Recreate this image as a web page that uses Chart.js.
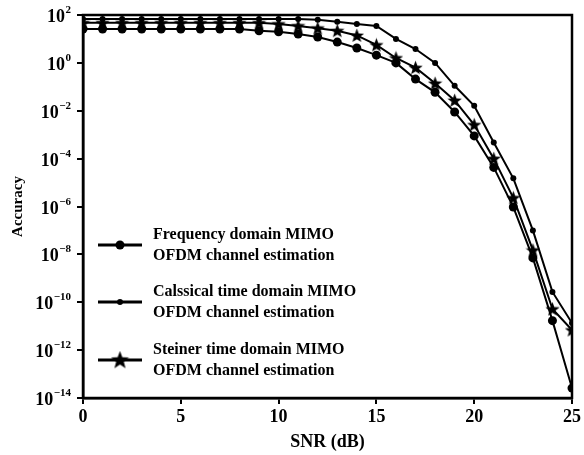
<!DOCTYPE html>
<html lang="en">
<head>
  <meta charset="UTF-8" />
  <title>Accuracy vs SNR</title>
  <script src="https://cdn.jsdelivr.net/npm/chart.js"></script>
  <style>
    body { margin: 0; background: #fff; }
    #wrap { width: 584px; height: 455px; position: relative; }
  </style>
</head>
<body>
  <div id="wrap"><canvas id="chart"></canvas></div>
  <script>
    // values
    const snr = [0, 1, 2, 3, 4, 5, 6, 7, 8, 9, 10, 11, 12, 13, 14, 15, 16, 17, 18, 19, 20, 21, 22, 23, 24, 25];
    const freqAcc = [26, 26, 26, 26, 26, 26, 26, 26, 26, 22, 20, 16, 12, 7.4, 4.2, 2.1, 1.0, 0.21, 0.059, 0.0089,
      8.9e-4, 4.3e-5, 9.5e-7, 7.1e-9, 1.7e-11, 2.6e-14];
    const classicAcc = [68, 68, 68, 68, 68, 68, 68, 68, 68, 68, 68, 68, 63, 52, 42, 35, 10, 3.8, 1.0, 0.11,
      0.016, 4.7e-4, 1.5e-5, 1.0e-7, 2.7e-10, 1.35e-11];
    const steinerAcc = [47, 47, 47, 47, 47, 47, 47, 47, 47, 47, 42, 35, 28, 22, 14, 5.6, 1.6, 0.63, 0.14, 0.027,
      2.6e-3, 1.0e-4, 2.3e-6, 1.5e-8, 5.2e-11, 6.9e-12];

    const xTicks = [0, 5, 10, 15, 20, 25];
    const yTicks = [1e2, 1e0, 1e-2, 1e-4, 1e-6, 1e-8, 1e-10, 1e-12, 1e-14];

    const seriesNames = [
      ['Frequency domain MIMO', 'OFDM channel estimation'],
      ['Calssical time domain MIMO', 'OFDM channel estimation'],
      ['Steiner time domain MIMO', 'OFDM channel estimation']
    ];

    const serif = "'Liberation Serif', 'DejaVu Serif', serif";

    // filled five point star for the Steiner series
    function makeStar(size) {
      const c = document.createElement('canvas');
      c.width = size; c.height = size;
      const g = c.getContext('2d');
      const r = size / 2, ri = r * 0.42;
      g.beginPath();
      for (let i = 0; i < 10; i++) {
        const a = -Math.PI / 2 + i * Math.PI / 5;
        const rr = i % 2 === 0 ? r : ri;
        g.lineTo(r + rr * Math.cos(a), r + 0.5 + rr * Math.sin(a));
      }
      g.closePath();
      g.fillStyle = '#000';
      g.fill();
      return c;
    }
    const starPt = makeStar(15);
    const starLegend = makeStar(19);

    const extras = {
      id: 'extras',
      beforeDraw(chart) {
        const ctx = chart.ctx;
        ctx.save();
        ctx.fillStyle = '#fff';
        ctx.fillRect(0, 0, chart.width, chart.height);
        ctx.restore();
      },
      afterDraw(chart) {
        const ctx = chart.ctx;
        const a = chart.chartArea;
        const ys = chart.scales.y;
        ctx.save();
        // frame
        ctx.strokeStyle = '#000';
        ctx.lineWidth = 2.5;
        ctx.strokeRect(a.left, a.top, a.right - a.left, a.bottom - a.top);

        // y tick labels as 10 with a raised exponent
        ctx.fillStyle = '#000';
        ctx.textAlign = 'right';
        ctx.textBaseline = 'alphabetic';
        yTicks.forEach(v => {
          const y = ys.getPixelForValue(v);
          const e = Math.round(Math.log10(v));
          const es = e < 0 ? '\u2212' + (-e) : String(e);
          ctx.font = 'bold 11px ' + serif;
          const ew = ctx.measureText(es).width;
          ctx.fillText(es, 71, y - 2);
          ctx.font = 'bold 18px ' + serif;
          ctx.fillText('10', 71 - ew - 0.5, y + 7);
        });

        // legend inside the plot
        const styles = chart.data.datasets;
        const lineY = [245, 302, 360];
        ctx.textAlign = 'left';
        ctx.textBaseline = 'middle';
        ctx.font = 'bold 16px ' + serif;
        seriesNames.forEach((lines, i) => {
          const y = lineY[i];
          ctx.strokeStyle = '#000';
          ctx.lineWidth = 3;
          ctx.beginPath();
          ctx.moveTo(98, y);
          ctx.lineTo(142, y);
          ctx.stroke();
          const st = styles[i].pointStyle;
          if (st === 'circle') {
            ctx.beginPath();
            ctx.arc(120, y, styles[i].pointRadius, 0, Math.PI * 2);
            ctx.fill();
          } else {
            ctx.drawImage(starLegend, 120 - 9.5, y - 9.5);
          }
          ctx.fillText(lines[0], 153, y - 10);
          ctx.fillText(lines[1], 153, y + 11);
        });
        ctx.restore();
      }
    };

    new Chart(document.getElementById('chart'), {
      type: 'line',
      data: {
        labels: snr,
        datasets: [
          { label: seriesNames[0].join(' '), data: freqAcc, pointStyle: 'circle', pointRadius: 4.5 },
          { label: seriesNames[1].join(' '), data: classicAcc, pointStyle: 'circle', pointRadius: 3 },
          { label: seriesNames[2].join(' '), data: steinerAcc, pointStyle: starPt, pointRadius: 7 }
        ].map(d => Object.assign(d, {
          borderColor: '#000',
          backgroundColor: '#000',
          borderWidth: 2,
          pointBorderWidth: 0,
          pointHoverRadius: d.pointRadius,
          tension: 0,
          fill: false
        }))
      },
      options: {
        responsive: true,
        maintainAspectRatio: false,
        animation: false,
        layout: { padding: { top: 15, right: 12, left: 0, bottom: 0 } },
        plugins: { legend: { display: false }, tooltip: { enabled: false } },
        scales: {
          x: {
            type: 'linear',
            min: 0,
            max: 25,
            afterBuildTicks: s => { s.ticks = xTicks.map(v => ({ value: v })); },
            afterFit: s => { s.height = 57; },
            grid: { drawOnChartArea: false, drawTicks: true, tickLength: 6, color: '#000', lineWidth: 2 },
            border: { color: '#000', width: 2.5 },
            ticks: { color: '#000', padding: 3, maxRotation: 0, font: { family: serif, size: 18, weight: 'bold' } },
            title: { display: true, text: 'SNR (dB)', color: '#000', padding: { top: 0, bottom: 2 },
              font: { family: serif, size: 18, weight: 'bold' } }
          },
          y: {
            type: 'logarithmic',
            min: 1e-14,
            max: 1e2,
            afterBuildTicks: s => { s.ticks = yTicks.map(v => ({ value: v })); },
            afterFit: s => { s.width = 83; },
            grid: { drawOnChartArea: false, drawTicks: true, tickLength: 6, color: '#000', lineWidth: 2 },
            border: { color: '#000', width: 2.5 },
            ticks: { display: false },
            title: { display: true, text: 'Accuracy', color: '#000', padding: { top: 9, bottom: 0 },
              font: { family: serif, size: 15, weight: 'bold' } }
          }
        }
      },
      plugins: [extras]
    });
  </script>
</body>
</html>
